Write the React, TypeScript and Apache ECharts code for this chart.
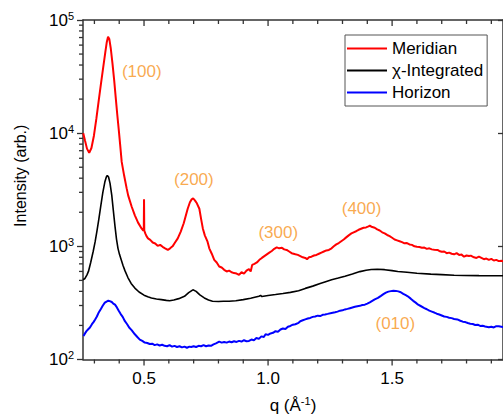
import React, { useEffect, useRef } from 'react';
import * as echarts from 'echarts';

const FONT = 'Liberation Sans, Arial, sans-serif';
const X_MIN = 0.254;
const X_MAX = 1.947;
const Y_MIN = 100;
const Y_MAX = 100000;

const seriesNames = ['Meridian', 'χ-Integrated', 'Horizon'];
const seriesColors = ['#ff0000', '#000000', '#0000ff'];

const meridian: [number, number][] = [
  [0.255, 10000], [0.262, 8600], [0.27, 7300], [0.279, 6700], [0.288, 7400], [0.298, 9500], [0.308, 13500],
  [0.318, 19900], [0.327, 28000], [0.336, 38900], [0.344, 52000], [0.35, 64000], [0.355, 71000], [0.36, 68000],
  [0.366, 56000], [0.373, 41000], [0.38, 28800], [0.386, 20500], [0.392, 14700], [0.398, 10800], [0.404, 7800],
  [0.41, 5570], [0.42, 4200], [0.43, 3250], [0.436, 2820], [0.45, 2250], [0.463, 1880], [0.476, 1620],
  [0.49, 1440], [0.497, 1380], [0.499, 1400], [0.5, 2600], [0.501, 1380], [0.505, 1300], [0.51, 1230],
  [0.516, 1175], [0.525, 1140], [0.535, 1080], [0.545, 1060], [0.555, 1010], [0.565, 1030], [0.575, 990],
  [0.585, 960], [0.596, 929], [0.605, 960], [0.615, 1000], [0.625, 1080], [0.636, 1175], [0.648, 1350],
  [0.66, 1600], [0.668, 1850], [0.676, 2150], [0.685, 2450], [0.692, 2600], [0.698, 2650], [0.705, 2550],
  [0.713, 2400], [0.723, 2150], [0.73, 1750], [0.737, 1440], [0.745, 1250], [0.756, 1100], [0.763, 960],
  [0.773, 860], [0.783, 760], [0.793, 720], [0.803, 664], [0.813, 650], [0.823, 620], [0.833, 600],
  [0.843, 610], [0.853, 590], [0.863, 580], [0.873, 575], [0.883, 560], [0.893, 590], [0.903, 575],
  [0.913, 610], [0.923, 630], [0.93, 600], [0.936, 686], [0.945, 700], [0.955, 720], [0.965, 760],
  [0.975, 790], [0.985, 820], [0.995, 850], [1.005, 880], [1.015, 910], [1.025, 950], [1.035, 980],
  [1.045, 960], [1.056, 970], [1.065, 940], [1.075, 930], [1.085, 900], [1.095, 870], [1.11, 851],
  [1.12, 840], [1.13, 820], [1.14, 800], [1.15, 790], [1.157, 770], [1.165, 800], [1.175, 810],
  [1.185, 830], [1.195, 840], [1.205, 860], [1.215, 880], [1.225, 900], [1.235, 920], [1.245, 930],
  [1.256, 960], [1.265, 1000], [1.275, 1040], [1.285, 1070], [1.295, 1110], [1.305, 1150], [1.315, 1200],
  [1.325, 1250], [1.336, 1300], [1.345, 1330], [1.355, 1360], [1.365, 1400], [1.375, 1430], [1.385, 1460],
  [1.395, 1470], [1.405, 1500], [1.41, 1520], [1.42, 1480], [1.43, 1460], [1.44, 1410], [1.45, 1380],
  [1.46, 1330], [1.47, 1300], [1.48, 1260], [1.49, 1230], [1.5, 1190], [1.51, 1150], [1.52, 1130],
  [1.53, 1110], [1.54, 1090], [1.55, 1063], [1.56, 1070], [1.57, 1040], [1.58, 1030], [1.59, 1000],
  [1.6, 990], [1.61, 985], [1.62, 970], [1.63, 975], [1.64, 950], [1.65, 960], [1.66, 940], [1.67, 935],
  [1.683, 929], [1.69, 910], [1.7, 895], [1.71, 900], [1.72, 870], [1.73, 880], [1.74, 860], [1.75, 850],
  [1.76, 870], [1.77, 840], [1.78, 845], [1.79, 810], [1.8, 830], [1.81, 820], [1.817, 828], [1.83, 800],
  [1.84, 790], [1.85, 810], [1.86, 790], [1.87, 770], [1.88, 780], [1.89, 760], [1.9, 775], [1.91, 750],
  [1.92, 759], [1.93, 740], [1.94, 745], [1.95, 735],
];

const chiIntegrated: [number, number][] = [
  [0.254, 507], [0.262, 520], [0.27, 560], [0.276, 600], [0.285, 720], [0.295, 900], [0.303, 1100],
  [0.31, 1355], [0.318, 1750], [0.326, 2300], [0.334, 3000], [0.342, 3700], [0.348, 4100], [0.352, 4230],
  [0.357, 4100], [0.363, 3600], [0.37, 2820], [0.376, 2100], [0.383, 1500], [0.389, 1160], [0.395, 960],
  [0.401, 850], [0.408, 760], [0.415, 680], [0.423, 610], [0.435, 530], [0.448, 470], [0.463, 428], [0.48, 395],
  [0.5, 370], [0.515, 358], [0.53, 350], [0.55, 343], [0.57, 338], [0.59, 333], [0.603, 331], [0.62, 335],
  [0.64, 345], [0.663, 362], [0.68, 390], [0.697, 413], [0.71, 400], [0.725, 372], [0.743, 350],
  [0.76, 335], [0.776, 327], [0.8, 325], [0.82, 327], [0.843, 327], [0.87, 330], [0.9, 338], [0.93, 348],
  [0.963, 362], [0.97, 368], [0.975, 360], [1.0, 368], [1.03, 375], [1.06, 383], [1.09, 392], [1.123, 405],
  [1.15, 425], [1.18, 445], [1.21, 470], [1.235, 490], [1.256, 507], [1.283, 524], [1.31, 545], [1.34, 570],
  [1.37, 598], [1.395, 615], [1.416, 625], [1.44, 628], [1.47, 622], [1.5, 610], [1.523, 600], [1.56, 590],
  [1.6, 578], [1.656, 568], [1.7, 562], [1.75, 555], [1.79, 553], [1.85, 551], [1.9, 550], [1.95, 549],
];

const horizon: [number, number][] = [
  [0.256, 161], [0.262, 170], [0.268, 178], [0.275, 185], [0.282, 192], [0.29, 205], [0.297, 215],
  [0.303, 226], [0.31, 240], [0.318, 262], [0.326, 280], [0.334, 300], [0.342, 318], [0.349, 325],
  [0.356, 331], [0.362, 328], [0.37, 322], [0.376, 312], [0.383, 305], [0.39, 290], [0.398, 270],
  [0.406, 252], [0.414, 238], [0.423, 218], [0.432, 205], [0.44, 192], [0.45, 182], [0.463, 167],
  [0.473, 158], [0.483, 150], [0.493, 146], [0.503, 141], [0.513, 140], [0.523, 137], [0.533, 138],
  [0.543, 134], [0.553, 136], [0.563, 133], [0.573, 135], [0.583, 132], [0.593, 131], [0.603, 134],
  [0.613, 130], [0.623, 132], [0.633, 129], [0.643, 131], [0.653, 128], [0.663, 130], [0.673, 127],
  [0.683, 130], [0.69, 129], [0.7, 131], [0.71, 129], [0.72, 132], [0.73, 131], [0.74, 134], [0.75, 131],
  [0.76, 133], [0.77, 132], [0.78, 136], [0.79, 139], [0.803, 144], [0.813, 141], [0.823, 143],
  [0.833, 141], [0.843, 144], [0.853, 142], [0.863, 145], [0.873, 143], [0.883, 146], [0.893, 144],
  [0.903, 148], [0.913, 145], [0.923, 146], [0.933, 150], [0.943, 148], [0.953, 155], [0.963, 152],
  [0.973, 160], [0.983, 158], [0.99, 167], [1.0, 165], [1.01, 170], [1.02, 172], [1.03, 178], [1.04, 176],
  [1.05, 184], [1.06, 188], [1.07, 186], [1.08, 195], [1.09, 198], [1.1, 203], [1.11, 205], [1.123, 211],
  [1.13, 218], [1.14, 222], [1.15, 226], [1.16, 230], [1.17, 233], [1.18, 238], [1.19, 240], [1.2, 244],
  [1.21, 242], [1.22, 248], [1.23, 250], [1.24, 253], [1.256, 258], [1.27, 262], [1.28, 265], [1.29, 270],
  [1.3, 272], [1.31, 277], [1.32, 280], [1.33, 284], [1.34, 288], [1.35, 292], [1.36, 295], [1.37, 298],
  [1.38, 303], [1.39, 305], [1.4, 312], [1.41, 320], [1.42, 330], [1.43, 340], [1.443, 350], [1.455, 365],
  [1.465, 378], [1.475, 390], [1.485, 398], [1.495, 402], [1.505, 405], [1.515, 404], [1.525, 400],
  [1.535, 393], [1.545, 380], [1.555, 370], [1.563, 362], [1.575, 345], [1.585, 330], [1.595, 318],
  [1.605, 305], [1.615, 297], [1.63, 285], [1.64, 278], [1.65, 270], [1.66, 265], [1.67, 260], [1.68, 254],
  [1.69, 250], [1.7, 245], [1.71, 240], [1.72, 238], [1.73, 234], [1.74, 232], [1.75, 228], [1.763, 226],
  [1.775, 220], [1.785, 216], [1.795, 214], [1.805, 210], [1.815, 207], [1.825, 206], [1.835, 202],
  [1.845, 203], [1.855, 198], [1.865, 199], [1.875, 196], [1.89, 193], [1.9, 195], [1.91, 192], [1.92, 197],
  [1.93, 197], [1.94, 195], [1.95, 193],
];

const peakNames = ['(100)', '(200)', '(300)', '(400)', '(010)'];
const peakQ = [0.491, 0.701, 1.041, 1.377, 1.513];
const peakV = [35000, 3870, 1330, 2150, 207];

const xMajorTicks = [0.5, 1.0, 1.5];
const xMinorTicks = [0.3, 0.4, 0.6, 0.7, 0.8, 0.9, 1.1, 1.2, 1.3, 1.4, 1.6, 1.7, 1.8, 1.9];
const yMinorTicks = [
  200, 300, 400, 500, 600, 700, 800, 900,
  2000, 3000, 4000, 5000, 6000, 7000, 8000, 9000,
  20000, 30000, 40000, 50000, 60000, 70000, 80000, 90000,
];

const AXIS_COLOR = '#333';

function xTickSeries(values: number[], len: number) {
  return {
    type: 'custom',
    silent: true,
    clip: false,
    data: values.map((v) => [v, Y_MIN]),
    renderItem: (params: any, api: any) => {
      const cs = params.coordSys;
      const x = api.coord([api.value(0), Y_MIN])[0];
      const yb = cs.y + cs.height;
      const yt = cs.y;
      const style = { stroke: AXIS_COLOR, lineWidth: 1.3 };
      return {
        type: 'group',
        children: [
          { type: 'line', shape: { x1: x, y1: yb, x2: x, y2: yb + len }, style },
          { type: 'line', shape: { x1: x, y1: yt, x2: x, y2: yt + len }, style },
        ],
      };
    },
  };
}

function yTickSeries(values: number[], len: number) {
  return {
    type: 'custom',
    silent: true,
    clip: false,
    data: values.map((v) => [X_MIN, v]),
    renderItem: (params: any, api: any) => {
      const cs = params.coordSys;
      const y = api.coord([X_MIN, api.value(1)])[1];
      const xl = cs.x;
      const style = { stroke: AXIS_COLOR, lineWidth: 1.3 };
      return {
        type: 'group',
        children: [{ type: 'line', shape: { x1: xl, y1: y, x2: xl - len, y2: y }, style }],
      };
    },
  };
}

export default function App() {
  const ref = useRef<HTMLDivElement>(null);

  useEffect(() => {
    if (!ref.current) return;
    const chart = echarts.init(ref.current, undefined, { renderer: 'svg' });
    const lineData = [meridian, chiIntegrated, horizon];
    const lineWidths = [2, 1.6, 2];

    chart.setOption({
      animation: false,
      backgroundColor: '#ffffff',
      textStyle: { fontFamily: FONT },
      grid: { left: 83, top: 20, right: -2, bottom: 57 },
      legend: {
        data: seriesNames,
        orient: 'vertical',
        left: 345,
        top: 35,
        icon: 'rect',
        itemWidth: 40,
        itemHeight: 2,
        itemGap: 5,
        borderColor: '#555',
        borderWidth: 1,
        borderRadius: 0,
        padding: [5, 4, 5, 2],
        backgroundColor: '#ffffff',
        textStyle: { fontSize: 17, color: '#000', fontFamily: FONT, lineHeight: 17 },
      },
      xAxis: [
        {
          type: 'value',
          position: 'bottom',
          min: X_MIN,
          max: X_MAX,
          splitNumber: 3,
          axisLine: { show: true, lineStyle: { color: AXIS_COLOR, width: 1.5 } },
          axisTick: { show: false },
          splitLine: { show: false },
          axisLabel: {
            showMinLabel: false,
            showMaxLabel: false,
            margin: 10,
            fontSize: 17,
            color: '#000',
            fontFamily: FONT,
            formatter: (v: number) => (xMajorTicks.some((t) => Math.abs(t - v) < 1e-6) ? v.toFixed(1) : ''),
          },
          name: '{a|q (Å}{s|-1}{a|)}',
          nameLocation: 'middle',
          nameGap: 36,
          nameTextStyle: {
            rich: {
              a: { fontSize: 17, color: '#000', fontFamily: FONT },
              s: { fontSize: 11, color: '#000', fontFamily: FONT, padding: [0, 0, 9, 0] },
            },
          },
        },
        {
          type: 'value',
          position: 'top',
          min: X_MIN,
          max: X_MAX,
          splitNumber: 3,
          axisLine: { show: true, lineStyle: { color: AXIS_COLOR, width: 1.5 } },
          axisTick: { show: false },
          axisLabel: { show: false },
          splitLine: { show: false },
        },
      ],
      yAxis: [
        {
          type: 'log',
          logBase: 10,
          min: Y_MIN,
          max: Y_MAX,
          position: 'left',
          axisLine: { show: true, lineStyle: { color: AXIS_COLOR, width: 1.5 } },
          axisTick: { show: true, inside: false, length: 6, lineStyle: { color: AXIS_COLOR, width: 1.3 } },
          splitLine: { show: false },
          axisLabel: {
            margin: 9,
            color: '#000',
            formatter: (v: number) => '{b|10}{s|' + Math.round(Math.log10(v)) + '}',
            rich: {
              b: { fontSize: 17, color: '#000', fontFamily: FONT },
              s: { fontSize: 11, color: '#000', fontFamily: FONT, padding: [0, 0, 9, 0] },
            },
          },
          name: 'Intensity (arb.)',
          nameLocation: 'middle',
          nameGap: 55,
          nameTextStyle: { fontSize: 16, color: '#000', fontFamily: FONT, padding: [0, 0, 0, 28] },
        },
        {
          type: 'log',
          logBase: 10,
          min: Y_MIN,
          max: Y_MAX,
          position: 'right',
          axisLine: { show: true, lineStyle: { color: AXIS_COLOR, width: 1.5 } },
          axisTick: { show: true, inside: true, length: 5, lineStyle: { color: AXIS_COLOR, width: 1.3 } },
          axisLabel: { show: false },
          splitLine: { show: false },
        },
      ],
      series: [
        ...seriesNames.map((name, i) => ({
          name,
          type: 'line',
          data: lineData[i],
          showSymbol: false,
          symbol: 'none',
          clip: true,
          color: seriesColors[i],
          lineStyle: { color: seriesColors[i], width: lineWidths[i] },
          z: 3 - i,
        })),
        {
          type: 'scatter',
          name: 'peaks',
          symbolSize: 0,
          silent: true,
          data: peakNames.map((n, i) => ({ name: n, value: [peakQ[i], peakV[i]] })),
          label: {
            show: true,
            position: 'inside',
            formatter: '{b}',
            color: '#F7941E',
            fontSize: 17,
            fontFamily: FONT,
          },
        },
        xTickSeries(xMajorTicks, 6),
        xTickSeries(xMinorTicks, 4),
        yTickSeries(yMinorTicks, 4),
      ],
    });
    return () => chart.dispose();
  }, []);

  return (
    <div
      ref={ref}
      style={{ position: 'fixed', left: 0, top: 0, width: 503, height: 419, background: '#fff' }}
    />
  );
}
